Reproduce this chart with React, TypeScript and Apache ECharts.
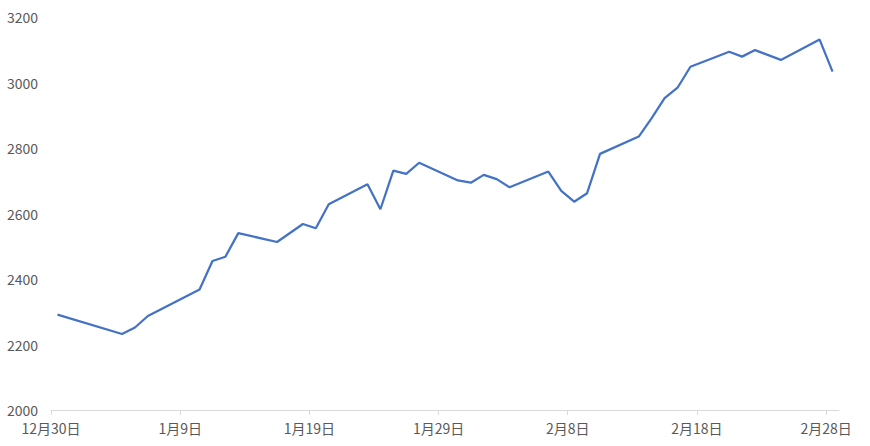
import React, { useEffect, useRef } from 'react';
import * as echarts from 'echarts';

const startDate = '2018-12-30';

const dates = [
  '2018-12-30', '2019-01-04', '2019-01-05', '2019-01-06', '2019-01-10',
  '2019-01-11', '2019-01-12', '2019-01-13', '2019-01-16', '2019-01-18',
  '2019-01-19', '2019-01-20', '2019-01-23', '2019-01-24', '2019-01-25',
  '2019-01-26', '2019-01-27', '2019-01-30', '2019-01-31', '2019-02-01',
  '2019-02-02', '2019-02-03', '2019-02-06', '2019-02-07', '2019-02-08',
  '2019-02-09', '2019-02-10', '2019-02-13', '2019-02-14', '2019-02-15',
  '2019-02-16', '2019-02-17', '2019-02-20', '2019-02-21', '2019-02-22',
  '2019-02-24', '2019-02-27', '2019-02-28',
];

const values = [
  2291, 2232, 2252, 2287, 2368,
  2455, 2468, 2540, 2513, 2568,
  2555, 2628, 2689, 2613, 2731,
  2721, 2755, 2701, 2694, 2718,
  2705, 2680, 2728, 2669, 2636,
  2662, 2782, 2835, 2891, 2952,
  2984, 3048, 3094, 3079, 3099,
  3069, 3131, 3033,
];

const xTickLabels = ['12月30日', '1月9日', '1月19日', '1月29日', '2月8日', '2月18日', '2月28日'];
const xTickStepDays = 10;
const xSpanDays = 61;

const yMin = 2000;
const yMax = 3200;
const yStep = 200;

export default function App() {
  const ref = useRef<HTMLDivElement>(null);

  useEffect(() => {
    if (!ref.current) return;
    const chart = echarts.init(ref.current, null, { renderer: 'svg' });
    const DAY = 86400000;
    const t0 = Date.parse(startDate + 'T00:00:00Z');
    const data = dates.map((d, i) => [
      (Date.parse(d + 'T00:00:00Z') - t0) / DAY + 0.5,
      values[i],
    ]);
    const tickValues = xTickLabels.map((_, i) => i * xTickStepDays);
    const font = "'Noto Sans CJK SC', 'Liberation Sans', sans-serif";

    chart.setOption({
      animation: false,
      grid: { left: 51, right: 31, top: 17, bottom: 36, containLabel: false },
      xAxis: {
        type: 'value',
        min: 0,
        max: xSpanDays,
        interval: xTickStepDays,
        splitLine: { show: false },
        axisLine: { show: true, lineStyle: { color: '#d9d9d9', width: 1 } },
        axisTick: {
          show: true,
          length: 5,
          customValues: tickValues,
          lineStyle: { color: '#d9d9d9', width: 1 },
        },
        axisLabel: {
          customValues: tickValues,
          formatter: (v: number) => xTickLabels[Math.round(v / xTickStepDays)] ?? '',
          color: '#595959',
          fontSize: 14,
          fontFamily: font,
          margin: 11,
        },
      },
      yAxis: {
        type: 'value',
        min: yMin,
        max: yMax,
        interval: yStep,
        axisLine: { show: false },
        axisTick: { show: false },
        splitLine: { show: false },
        axisLabel: {
          formatter: (v: number) => String(v),
          color: '#595959',
          fontSize: 14,
          fontFamily: font,
          margin: 13,
        },
      },
      series: [
        {
          type: 'line',
          data,
          showSymbol: false,
          symbol: 'none',
          lineStyle: { color: '#4472C4', width: 2.25 },
        },
      ],
    });

    return () => chart.dispose();
  }, []);

  return (
    <div
      ref={ref}
      style={{ position: 'fixed', left: 0, top: 0, width: 870, height: 446, background: '#fff' }}
    />
  );
}
